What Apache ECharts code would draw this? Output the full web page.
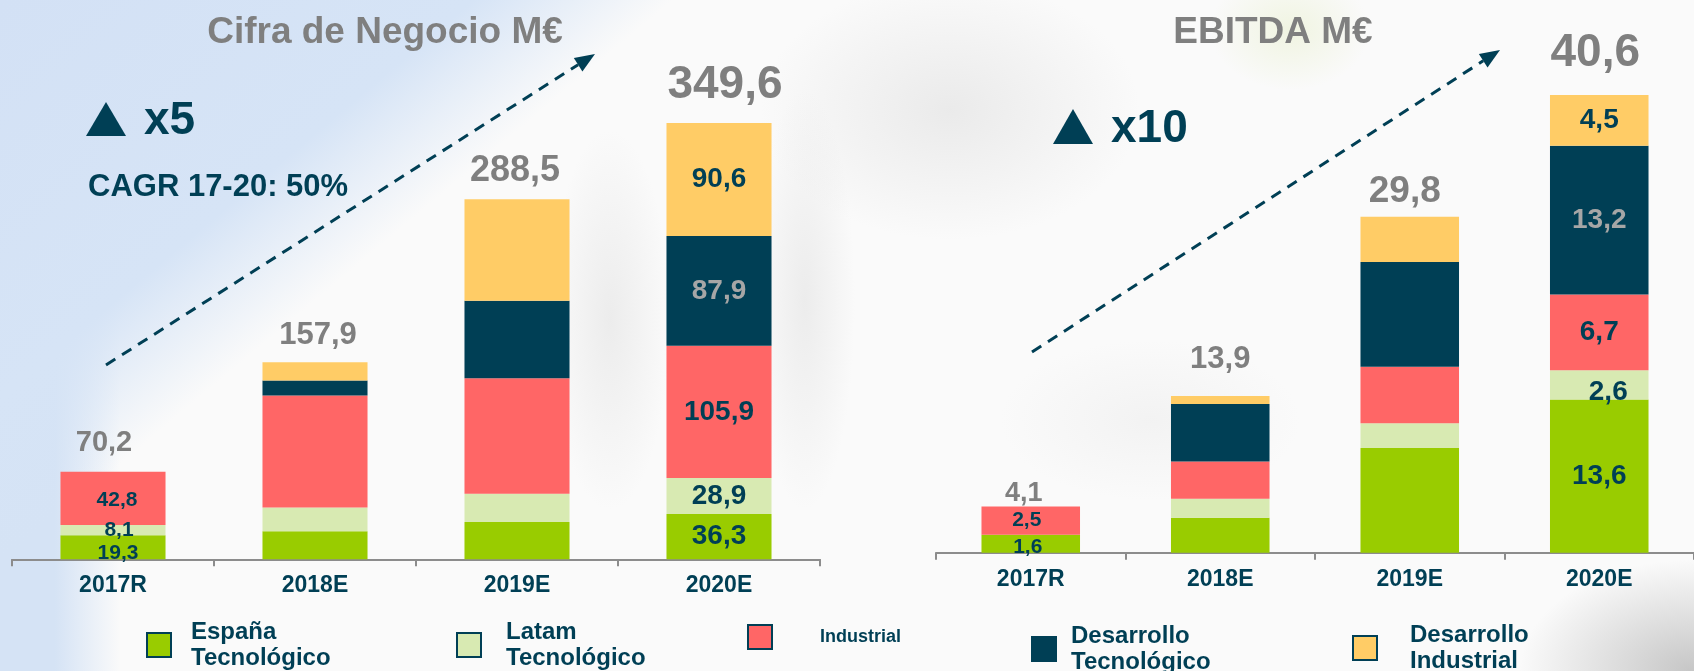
<!DOCTYPE html>
<html>
<head>
<meta charset="utf-8">
<title>Cifra de Negocio y EBITDA</title>
<script src="https://cdn.jsdelivr.net/npm/echarts@6/dist/echarts.min.js"></script>
<style>
  html, body { margin: 0; padding: 0; }
  body {
    width: 1694px;
    height: 671px;
    overflow: hidden;
    background:
      radial-gradient(ellipse 170px 110px at 1690px 670px, rgba(196,196,196,0.95), rgba(196,196,196,0)),
      radial-gradient(ellipse 60px 190px at 610px 320px, rgba(210,210,210,0.35), rgba(210,210,210,0)),
      radial-gradient(ellipse 50px 210px at 805px 300px, rgba(210,210,210,0.35), rgba(210,210,210,0)),
      radial-gradient(ellipse 190px 130px at 950px 110px, rgba(205,205,205,0.35), rgba(205,205,205,0)),
      radial-gradient(ellipse 80px 60px at 1290px 30px, rgba(230,238,200,0.5), rgba(230,238,200,0)),
      radial-gradient(ellipse 150px 80px at 1150px 420px, rgba(220,220,220,0.25), rgba(220,220,220,0)),
      linear-gradient(140deg, #d3e1f5 0%, #d6e4f6 19%, rgba(255,255,255,0) 27%),
      linear-gradient(90deg, #d5e3f5 0px, #d5e3f5 55px, rgba(213,227,245,0) 120px),
      #fafafa;
  }
  #main { width: 1694px; height: 671px; }
</style>
</head>
<body>
<div id="main"></div>
<script>
var chart = echarts.init(document.getElementById("main"));

// datos
var years = ["2017R", "2018E", "2019E", "2020E"];
var seriesNames = ["España\nTecnológico", "Latam\nTecnológico", "Industrial", "Desarrollo\nTecnológico", "Desarrollo\nIndustrial"];

// Cifra de Negocio M€
var ventasEspana = [19.3, 22.4, 29.9, 36.3];
var ventasLatam = [8.1, 19.0, 22.6, 28.9];
var ventasIndustrial = [42.8, 89.8, 92.5, 105.9];
var ventasDesTec = [0, 12.0, 62.1, 87.9];
var ventasDesInd = [0, 14.7, 81.4, 90.6];
var ventasTotal = [70.2, 157.9, 288.5, 349.6];

// EBITDA M€
var ebitdaEspana = [1.6, 3.1, 9.3, 13.6];
var ebitdaLatam = [0, 1.7, 2.2, 2.6];
var ebitdaIndustrial = [2.5, 3.3, 5.0, 6.7];
var ebitdaDesTec = [0, 5.1, 9.3, 13.2];
var ebitdaDesInd = [0, 0.7, 4.0, 4.5];
var ebitdaTotal = [4.1, 13.9, 29.8, 40.6];

var colors = ["#99cc00", "#d8eab2", "#ff6666", "#003f55", "#ffcc66"];
var dark = "#003f55";
var grey = "#7f7f7f";
var font = "'Liberation Sans', Arial, sans-serif";

// etiquetas: tamaño y desplazamiento de los totales
var ventasTotalSize = [29, 31, 36, 46];
var ventasTotalShift = [[-9, -14], [3, -11], [-2, -10], [6, -15]];
var ebitdaTotalSize = [27, 31, 37, 46];
var ebitdaTotalShift = [[-7, 0], [0, -21], [-5, -6], [-4, -19]];

function fmt(v) {
  return v.toFixed(1).replace(".", ",");
}

function segment(values, k, small, nudge) {
  return values.map(function (v, i) {
    var show = (i === 0 || i === 3) && v > 0;
    var off = (nudge && nudge[k + "-" + i]) || [0, 0];
    return {
      value: v,
      label: {
        show: show,
        position: "inside",
        formatter: fmt(v),
        fontSize: i === 0 ? small : 28,
        fontWeight: "bold",
        fontFamily: font,
        color: k === 3 ? "#a6a6a6" : dark,
        offset: off,
      },
    };
  });
}

function totals(values, sizes, shifts) {
  return values.map(function (v, i) {
    return {
      value: v,
      label: {
        show: true,
        position: "top",
        distance: 0,
        formatter: fmt(v),
        fontSize: sizes[i],
        fontWeight: "bold",
        fontFamily: font,
        color: grey,
        offset: shifts[i],
      },
    };
  });
}

function stackSeries(gridIdx, groups, small, nudge) {
  return groups.map(function (vals, k) {
    return {
      name: seriesNames[k],
      type: "bar",
      stack: "s" + gridIdx,
      xAxisIndex: gridIdx,
      yAxisIndex: gridIdx,
      barWidth: "52%",
      barGap: "-100%",
      itemStyle: { color: colors[k] },
      data: segment(vals, k, small, nudge),
    };
  });
}

var axisLook = {
  type: "category",
  axisLine: { lineStyle: { color: "#8c8c8c", width: 2 } },
  axisTick: { show: true, length: 7, lineStyle: { color: "#8c8c8c", width: 2 } },
  axisLabel: { fontSize: 23, fontWeight: "bold", fontFamily: font, color: dark, margin: 15 },
  data: years,
};

var series = []
  .concat(stackSeries(0, [ventasEspana, ventasLatam, ventasIndustrial, ventasDesTec, ventasDesInd], 21, { "0-0": [5, 6], "1-0": [6, 0], "2-0": [4, 2] }))
  .concat(stackSeries(1, [ebitdaEspana, ebitdaLatam, ebitdaIndustrial, ebitdaDesTec, ebitdaDesInd], 21, { "0-0": [-3, 3], "2-0": [-4, 0], "1-3": [9, 7] }));

series.push({
  name: "totalVentas", type: "bar", xAxisIndex: 0, yAxisIndex: 0, barWidth: "52%", barGap: "-100%",
  itemStyle: { color: "rgba(0,0,0,0)" }, silent: true, z: 3,
  data: totals(ventasTotal, ventasTotalSize, ventasTotalShift),
});
series.push({
  name: "totalEbitda", type: "bar", xAxisIndex: 1, yAxisIndex: 1, barWidth: "52%", barGap: "-100%",
  itemStyle: { color: "rgba(0,0,0,0)" }, silent: true, z: 3,
  data: totals(ebitdaTotal, ebitdaTotalSize, ebitdaTotalShift),
});

// leyenda: una por elemento para respetar las separaciones del original
// [left, top, hueco icono-texto, subir texto]
var legendPos = [[146, 619, 15, 0], [456, 619, 20, 0], [747, 624, 43, 0], [1031, 618, 10, 10], [1352, 618, 28, 8]];
var legends = seriesNames.map(function (n, k) {
  var p = legendPos[k];
  return {
    data: [{ name: n, itemStyle: { color: colors[k], borderColor: dark, borderWidth: 2 } }],
    left: p[0],
    top: p[1],
    padding: 0,
    icon: "rect",
    itemWidth: 24,
    itemHeight: 24,
    selectedMode: false,
    textStyle: {
      fontSize: k === 2 ? 18 : 24,
      fontWeight: "bold",
      fontFamily: font,
      color: dark,
      lineHeight: 26,
      padding: [0, 0, p[3], p[2]],
    },
  };
});

function arrow(x1, y1, x2, y2) {
  var dx = x2 - x1, dy = y2 - y1;
  var len = Math.sqrt(dx * dx + dy * dy);
  var ux = dx / len, uy = dy / len;
  var bx = x2 - ux * 20, by = y2 - uy * 20;
  return [
    {
      type: "line",
      shape: { x1: x1, y1: y1, x2: bx, y2: by },
      style: { stroke: dark, lineWidth: 3, lineDash: [11, 8] },
    },
    {
      type: "polygon",
      shape: { points: [[x2, y2], [bx - uy * 8, by + ux * 8], [bx + uy * 8, by - ux * 8]] },
      style: { fill: dark },
    },
  ];
}

function label(x, y, text, size, color, align) {
  return {
    type: "text",
    x: x,
    y: y,
    style: {
      text: text,
      fontSize: size,
      fontWeight: "bold",
      fontFamily: font,
      fill: color,
      align: align || "left",
      verticalAlign: "middle",
    },
  };
}

var graphics = [
  label(385, 33, "Cifra de Negocio M€", 37, grey, "center"),
  label(1273, 33, "EBITDA M€", 37, grey, "center"),
  { type: "polygon", shape: { points: [[106, 102], [86, 136], [126, 136]] }, style: { fill: dark } },
  label(144, 121, "x5", 46, dark),
  label(88, 187, "CAGR 17-20: 50%", 31, dark),
  { type: "polygon", shape: { points: [[1073, 109], [1053, 144], [1093, 144]] }, style: { fill: dark } },
  label(1111, 129, "x10", 46, dark),
]
  .concat(arrow(106, 365, 595, 54))
  .concat(arrow(1032, 352, 1500, 50));

var option = {
  animation: false,
  grid: [
    { left: 12, top: 60, width: 808, height: 499.3 },
    { left: 936, top: 45.4, width: 771, height: 507.4 },
  ],
  xAxis: [
    Object.assign({ gridIndex: 0 }, axisLook),
    Object.assign({ gridIndex: 1 }, axisLook),
  ],
  yAxis: [
    { type: "value", gridIndex: 0, min: 0, max: 400, show: false },
    { type: "value", gridIndex: 1, min: 0, max: 45, show: false },
  ],
  legend: legends,
  graphic: graphics,
  series: series,
};

chart.setOption(option);
</script>
</body>
</html>
